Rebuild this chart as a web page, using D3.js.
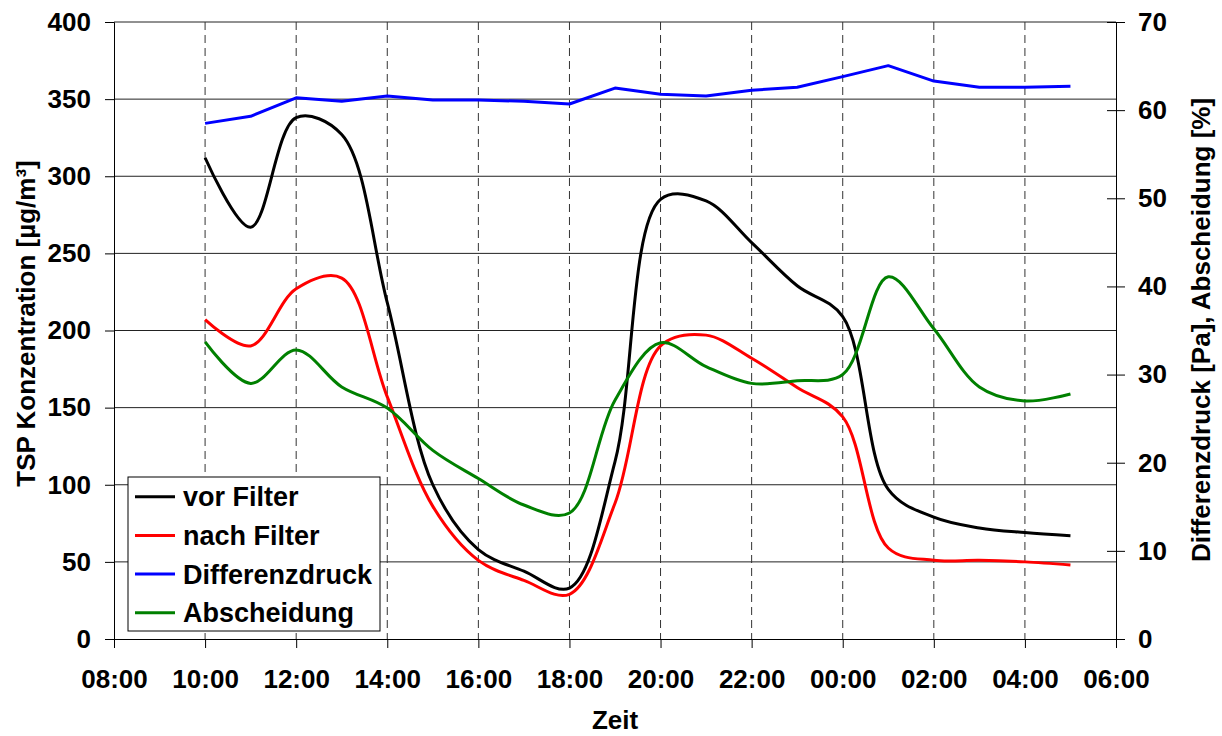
<!DOCTYPE html>
<html>
<head>
<meta charset="utf-8">
<script src="https://cdn.jsdelivr.net/npm/d3@7"></script>
<style>
  body { margin: 0; background: #fff; }
  svg { display: block; font-family: "Liberation Sans", Arial, sans-serif; font-weight: bold; }
</style>
</head>
<body>
<svg width="1222" height="736"></svg>
<script>
// Messzeitpunkte (stuendlich, ueber Mitternacht)
const zeiten = ['10:00','11:00','12:00','13:00','14:00','15:00','16:00','17:00','18:00','19:00',
                '20:00','21:00','22:00','23:00','00:00','01:00','02:00','03:00','04:00','05:00'];
const vorFilter = [312, 267, 338, 327, 218, 100, 58, 44, 33, 115,
                   285, 284, 257, 229, 209, 97, 79, 72, 69, 67];
const nachFilter = [207, 190, 227, 234, 157, 86, 51, 38, 29, 88,
                    190, 197, 182, 163, 144, 59, 51, 51, 50, 48];
const differenzdruck = [58.5, 59.3, 61.4, 61.0, 61.6, 61.15, 61.15, 61.0, 60.7, 62.5,
                        61.8, 61.6, 62.25, 62.6, 63.8, 65.05, 63.3, 62.6, 62.6, 62.7];
const abscheidung = [33.7, 29.0, 32.8, 28.6, 26.2, 21.4, 18.2, 15.2, 14.3, 27.1,
                     33.6, 30.9, 29.0, 29.3, 30.0, 41.1, 35.2, 28.6, 27.0, 27.8];
const serienNamen = ['vor Filter', 'nach Filter', 'Differenzdruck', 'Abscheidung'];
const serienFarben = ['#000000', '#ff0000', '#0000ff', '#008000'];

const svg = d3.select('svg');
const breite = +svg.attr('width');
const hoehe = +svg.attr('height');
const marg = { oben: 22, rechts: 106, unten: 97, links: 114 };
const innenB = breite - marg.links - marg.rechts;
const innenH = hoehe - marg.oben - marg.unten;
const schrift = 26;

// Uhrzeiten in Datumswerte, nach Mitternacht naechster Tag
let tag = 1, letzte = -1;
const datum = zeiten.map(z => {
    const h = +z.split(':')[0];
    if (h < letzte) tag++;
    letzte = h;
    return new Date(2000, 0, tag, h, 0);
});

const xEscala = d3.scaleTime()
    .domain([new Date(2000, 0, 1, 8), new Date(2000, 0, 2, 6)])
    .range([0, innenB]);
const yLinks = d3.scaleLinear().domain([0, 400]).range([innenH, 0]);
const yRechts = d3.scaleLinear().domain([0, 70]).range([innenH, 0]);

const g = svg.append('g')
    .attr('transform', `translate(${marg.links},${marg.oben})`);

// Gitter
const xTicks = xEscala.ticks(d3.timeHour.every(2));
g.append('g').selectAll('line').data(yLinks.ticks(8).filter(d => d > 0))
    .enter().append('line')
        .attr('x1', 0).attr('x2', innenB)
        .attr('y1', d => yLinks(d)).attr('y2', d => yLinks(d))
        .attr('stroke', '#222').attr('stroke-width', 1);
g.append('g').selectAll('line').data(xTicks.slice(1, -1))
    .enter().append('line')
        .attr('x1', d => xEscala(d)).attr('x2', d => xEscala(d))
        .attr('y1', 0).attr('y2', innenH)
        .attr('stroke', '#333').attr('stroke-width', 1)
        .attr('stroke-dasharray', '8,5');

// Achsen
const achseStil = sel => {
    sel.selectAll('text').attr('font-size', schrift).attr('font-weight', 'bold')
        .attr('font-family', '"Liberation Sans", Arial, sans-serif').attr('fill', '#000');
    sel.selectAll('line, path').attr('stroke', '#000');
};

g.append('g')
    .call(d3.axisLeft(yLinks).ticks(8).tickSizeOuter(0).tickSize(9).tickPadding(14))
    .call(achseStil);

g.append('g')
    .attr('transform', `translate(0,${innenH})`)
    .call(d3.axisBottom(xEscala).tickValues(xTicks).tickFormat(d3.timeFormat('%H:%M'))
        .tickSizeOuter(0).tickSize(9).tickPadding(22))
    .call(achseStil);

const rAchse = g.append('g')
    .attr('transform', `translate(${innenB},0)`)
    .call(d3.axisRight(yRechts).ticks(7).tickSizeOuter(0).tickSize(9).tickPadding(13))
    .call(achseStil);
rAchse.selectAll('.tick line').attr('x1', -9).attr('x2', 9);

// Achsentitel
g.append('text')
    .attr('transform', `translate(${35 - marg.links},${innenH / 2 - 7}) rotate(-90)`)
    .attr('text-anchor', 'middle')
    .attr('font-size', schrift)
    .text('TSP Konzentration [µg/m³]');
g.append('text')
    .attr('transform', `translate(${1210 - marg.links},${330 - marg.oben}) rotate(-90)`)
    .attr('text-anchor', 'middle')
    .attr('font-size', schrift)
    .text('Differenzdruck [Pa], Abscheidung [%]');
g.append('text')
    .attr('x', innenB / 2)
    .attr('y', 729 - marg.oben)
    .attr('text-anchor', 'middle')
    .attr('font-size', schrift)
    .text('Zeit');

// Linien
const glatt = (skala) => d3.line()
    .x((d, i) => xEscala(datum[i]))
    .y(d => skala(d))
    .curve(d3.curveCatmullRom.alpha(0.5));
const gerade = (skala) => d3.line()
    .x((d, i) => xEscala(datum[i]))
    .y(d => skala(d));

const serien = [
    { werte: vorFilter, gen: glatt(yLinks) },
    { werte: nachFilter, gen: glatt(yLinks) },
    { werte: differenzdruck, gen: gerade(yRechts) },
    { werte: abscheidung, gen: glatt(yRechts) }
];
serien.forEach((s, i) => {
    g.append('path')
        .attr('d', s.gen(s.werte))
        .attr('fill', 'none')
        .attr('stroke', serienFarben[i])
        .attr('stroke-width', 3)
        .attr('stroke-linejoin', 'round');
});

// Legende
const leg = svg.append('g').attr('transform', 'translate(128,477)');
leg.append('rect')
    .attr('width', 252).attr('height', 154)
    .attr('fill', '#fff').attr('stroke', '#000').attr('stroke-width', 1);
const eintrag = leg.selectAll('g.eintrag').data(serienNamen)
    .enter().append('g')
        .attr('class', 'eintrag')
        .attr('transform', (d, i) => `translate(0,${19.7 + i * 38.7})`);
eintrag.append('line')
    .attr('x1', 7).attr('x2', 47)
    .attr('stroke', (d, i) => serienFarben[i])
    .attr('stroke-width', 3);
eintrag.append('text')
    .attr('x', 55).attr('y', 9.5)
    .attr('font-size', 27)
    .text(d => d);
</script>
</body>
</html>
